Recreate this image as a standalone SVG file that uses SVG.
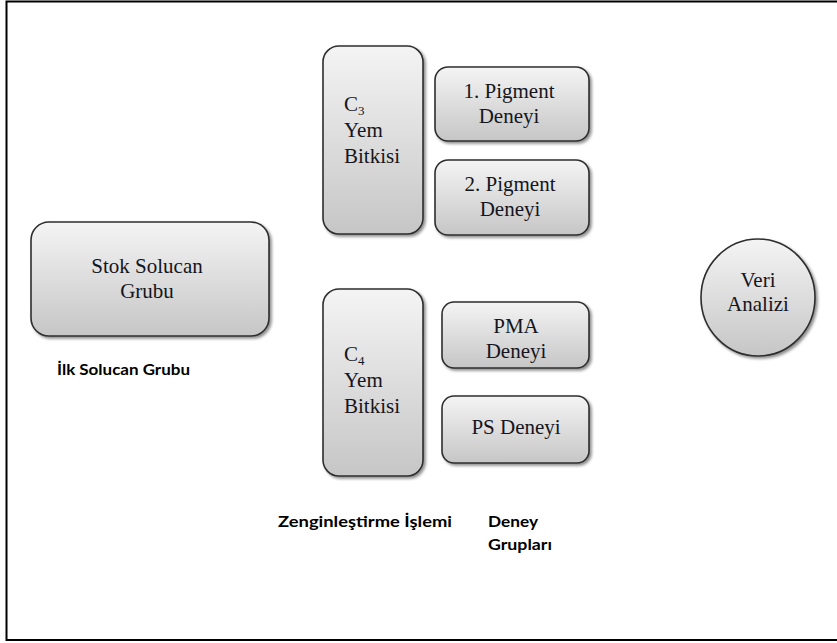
<svg xmlns="http://www.w3.org/2000/svg" width="837" height="643" viewBox="0 0 837 643">
<defs>
<linearGradient id="g" x1="0" y1="0" x2="0" y2="1">
<stop offset="0" stop-color="#f4f4f4"/>
<stop offset="1" stop-color="#c6c6c6"/>
</linearGradient>
<filter id="sh" x="-10%" y="-10%" width="125%" height="125%">
<feGaussianBlur in="SourceAlpha" stdDeviation="1.5"/>
<feOffset dx="1.5" dy="2" result="b"/>
<feComponentTransfer><feFuncA type="linear" slope="0.45"/></feComponentTransfer>
<feMerge><feMergeNode/><feMergeNode in="SourceGraphic"/></feMerge>
</filter>
</defs>
<style>
.box{fill:url(#g);stroke:#2e2e2e;stroke-width:1.6;filter:url(#sh)}
.t{font-family:"Liberation Serif",serif;font-size:21px;fill:#151520}
.c{text-anchor:middle}
.lab{font-family:Lato,"Liberation Sans",sans-serif;font-weight:bold;font-size:15px;fill:#000}
</style>
<rect width="837" height="643" fill="#fff"/>
<path d="M837,1.5 H6.5 V640 H837" fill="none" stroke="#000" stroke-width="2"/>
<g id="connectors"></g>
<g id="stok">
<rect class="box" x="31" y="222" width="238" height="114" rx="18"/>
<text class="t c" x="147" y="273">Stok Solucan</text>
<text class="t c" x="147" y="298">Grubu</text>
</g>
<g id="c3">
<rect class="box" x="323" y="46" width="100" height="188" rx="16"/>
<text class="t" x="344" y="111">C<tspan font-size="13" dy="4">3</tspan></text>
<text class="t" x="344" y="137">Yem</text>
<text class="t" x="344" y="163">Bitkisi</text>
</g>
<g id="pig1">
<rect class="box" x="435" y="67" width="154" height="74" rx="13"/>
<text class="t c" x="509" y="98">1. Pigment</text>
<text class="t c" x="509" y="123">Deneyi</text>
</g>
<g id="pig2">
<rect class="box" x="435" y="160" width="154" height="75" rx="13"/>
<text class="t c" x="510" y="191">2. Pigment</text>
<text class="t c" x="510" y="216">Deneyi</text>
</g>
<g id="c4">
<rect class="box" x="323" y="289" width="100" height="187" rx="16"/>
<text class="t" x="344" y="361">C<tspan font-size="13" dy="4">4</tspan></text>
<text class="t" x="344" y="387">Yem</text>
<text class="t" x="344" y="413">Bitkisi</text>
</g>
<g id="pma">
<rect class="box" x="442" y="302" width="147" height="66" rx="12"/>
<text class="t c" x="516" y="333">PMA</text>
<text class="t c" x="516" y="358">Deneyi</text>
</g>
<g id="ps">
<rect class="box" x="442" y="396" width="147" height="67" rx="12"/>
<text class="t c" x="516" y="434">PS Deneyi</text>
</g>
<g id="veri">
<ellipse class="box" cx="758" cy="297.5" rx="57" ry="58.5"/>
<text class="t c" x="758" y="287">Veri</text>
<text class="t c" x="758" y="311">Analizi</text>
</g>
<g id="labels">
<text class="lab" x="57" y="375" textLength="133" lengthAdjust="spacingAndGlyphs">İlk Solucan Grubu</text>
<text class="lab" x="278" y="527" textLength="174" lengthAdjust="spacingAndGlyphs">Zenginleştirme İşlemi</text>
<text class="lab" x="488" y="527" textLength="50" lengthAdjust="spacingAndGlyphs">Deney</text>
<text class="lab" x="488" y="550" textLength="64" lengthAdjust="spacingAndGlyphs">Grupları</text>
</g>
</svg>
